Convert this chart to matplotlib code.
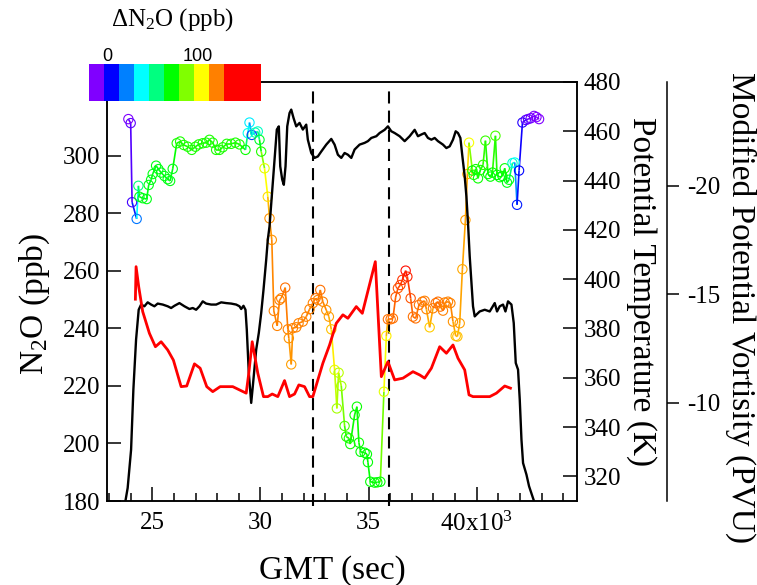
import matplotlib
matplotlib.use("Agg")
import matplotlib.pyplot as plt
import numpy as np
from matplotlib.collections import LineCollection
from matplotlib.colors import LinearSegmentedColormap, Normalize
from matplotlib.ticker import MultipleLocator, FixedLocator

plt.rcParams['font.family'] = 'Liberation Serif'
plt.rcParams['mathtext.fontset'] = 'custom'
plt.rcParams['mathtext.rm'] = 'Liberation Serif'
plt.rcParams['mathtext.it'] = 'Liberation Serif:italic'
plt.rcParams['mathtext.bf'] = 'Liberation Serif:bold'
plt.rcParams['axes.unicode_minus'] = False

# N2O samples (GMT sec, ppb) and delta N2O (ppb) used for the colour
n2o_time = [23889, 23995, 24060, 24273, 24352, 24398, 24551, 24736, 24829, 24940,
            25014, 25171, 25278, 25403, 25556, 25708, 25820, 25940, 26125, 26283,
            26449, 26634, 26820, 26991, 27144, 27329, 27486, 27639, 27792, 27949,
            28102, 28255, 28440, 28644, 28843, 29028, 29306, 29412, 29491, 29598,
            29755, 29875, 29954, 30033, 30186, 30338, 30417, 30523, 30616, 30773,
            30880, 30959, 31144, 31264, 31311, 31422, 31496, 31653, 31760, 31959,
            32116, 32269, 32422, 32547, 32653, 32765, 32885, 33042, 33163, 33274,
            33427, 33533, 33612, 33737, 33890, 33968, 34089, 34154, 34353, 34459,
            34552, 34630, 34816, 34922, 34968, 35079, 35279, 35404, 35543, 35709,
            35820, 35894, 36019, 36126, 36251, 36357, 36469, 36561, 36714, 36793,
            36945, 37052, 37177, 37330, 37487, 37594, 37673, 37825, 37978, 38103,
            38209, 38320, 38440, 38520, 38672, 38783, 38903, 39029, 39107, 39214,
            39339, 39478, 39570, 39645, 39802, 39862, 39955, 40061, 40172, 40293,
            40404, 40524, 40635, 40728, 40867, 40941, 41066, 41191, 41298, 41404,
            41497, 41654, 41761, 41867, 41960, 42117, 42270, 42376, 42501, 42654,
            42765, 42885]
n2o_ppb = [312.8, 311.4, 283.9, 278.1, 289.6, 285.8, 285.3, 285.0, 289.9, 291.7,
           293.7, 296.6, 295.4, 294.2, 293.0, 291.9, 291.3, 295.5, 304.4, 305.0,
           303.8, 303.2, 302.1, 303.2, 304.0, 304.4, 304.6, 305.6, 304.6, 302.1,
           302.1, 303.0, 304.2, 304.2, 304.6, 304.0, 302.1, 307.9, 311.6, 307.3,
           308.1, 308.5, 305.6, 301.5, 295.7, 285.8, 278.3, 270.8, 246.1, 240.9,
           249.9, 250.5, 254.2, 239.7, 236.6, 227.5, 240.1, 240.4, 241.8, 242.4,
           244.1, 246.7, 248.8, 250.5, 249.9, 253.4, 249.3, 246.4, 244.1, 239.7,
           225.6, 212.2, 224.6, 220.0, 206.1, 202.4, 201.8, 199.8, 209.9, 212.8,
           200.3, 197.1, 196.8, 196.3, 193.5, 186.7, 186.4, 186.5, 186.7, 218.0,
           237.4, 243.2, 243.2, 243.5, 250.9, 254.0, 255.1, 256.9, 260.1, 258.0,
           250.5, 244.1, 243.5, 248.2, 249.3, 249.6, 246.7, 240.4, 247.0, 248.8,
           249.3, 247.6, 246.2, 249.0, 249.3, 248.8, 242.4, 237.4, 237.2, 241.8,
           260.6, 277.7, 293.7, 304.6, 294.9, 293.4, 295.4, 292.2, 295.1, 296.9,
           305.3, 293.7, 292.8, 294.2, 307.0, 293.4, 292.6, 293.0, 295.7, 290.7,
           291.7, 297.5, 297.7, 283.0, 294.9, 311.6, 312.5, 312.8, 313.1, 313.9,
           313.5, 312.8]
dn2o = [-12, -8, -4, 20, 55, 68, 68, 68, 68, 68,
        68, 68, 68, 68, 68, 68, 68, 68, 74, 74,
        74, 74, 74, 74, 74, 74, 74, 74, 74, 74,
        74, 74, 74, 74, 74, 74, 72, 40, 35, 12,
        48, 45, 65, 75, 100, 108, 118, 118, 120, 120,
        120, 120, 122, 120, 118, 116, 120, 120, 120, 120,
        120, 120, 120, 122, 120, 122, 120, 118, 116, 112,
        100, 92, 95, 92, 80, 76, 74, 72, 72, 72,
        72, 70, 70, 70, 70, 70, 70, 70, 70, 100,
        106, 122, 122, 122, 125, 125, 128, 130, 135, 132,
        126, 122, 122, 122, 122, 120, 120, 110, 120, 122,
        122, 122, 120, 120, 120, 120, 118, 112, 112, 116,
        115, 116, 115, 103, 72, 74, 72, 72, 74, 76,
        78, 70, 70, 72, 80, 70, 70, 70, 72, 68,
        68, 45, 38, 8, 5, 0, -6, -8, -10, -14,
        -14, -14]

# potential temperature (K)
theta_time = [23750, 23856, 24014, 24120, 24245, 24366, 24477, 24630, 24782, 24940,
              25093, 25245, 25477, 25708, 25866, 26019, 26250, 26482, 26713, 26866,
              27023, 27176, 27329, 27486, 27718, 27949, 28181, 28412, 28644, 28875,
              29028, 29107, 29213, 29306, 29366, 29459, 29570, 29644, 29801, 29922,
              30033, 30139, 30264, 30338, 30417, 30649, 30755, 30848, 30913, 31005,
              31079, 31158, 31237, 31343, 31422, 31528, 31653, 31806, 31959, 32116,
              32190, 32348, 32501, 32653, 32811, 33042, 33274, 33427, 33579, 33737,
              33890, 34042, 34200, 34353, 34584, 34816, 34968, 35126, 35357, 35510,
              35742, 35894, 36052, 36205, 36436, 36668, 36899, 37131, 37284, 37441,
              37594, 37746, 37904, 38057, 38209, 38440, 38598, 38751, 38904, 39029,
              39135, 39246, 39339, 39446, 39524, 39598, 39677, 39756, 39830, 39909,
              39987, 40140, 40372, 40603, 40835, 40941, 41066, 41219, 41330, 41450,
              41608, 41714, 41807, 41913, 41992, 42071, 42145, 42302, 42422, 42580,
              42654]
theta_k = [309.9, 315.3, 330.8, 355.2, 375.5, 387.6, 389.7, 389.0, 390.6, 389.7,
           389.0, 390.1, 389.7, 389.0, 388.3, 389.2, 390.3, 389.0, 387.9, 388.3,
           387.6, 389.0, 391.0, 390.1, 389.7, 389.7, 390.6, 390.3, 390.1, 389.7,
           389.0, 387.9, 389.2, 387.6, 379.5, 362.0, 349.8, 356.5, 371.4, 378.2,
           386.3, 395.7, 407.9, 416.0, 421.4, 448.5, 460.7, 462.0, 445.8, 440.4,
           438.3, 445.8, 462.0, 467.4, 468.8, 465.4, 462.0, 463.4, 460.7, 462.7,
           456.6, 451.2, 449.2, 449.8, 451.8, 454.6, 456.9, 454.6, 450.5, 449.2,
           451.2, 450.5, 449.2, 452.6, 454.6, 455.3, 456.0, 457.3, 458.0, 459.3,
           460.6, 462.0, 460.0, 459.3, 458.0, 456.0, 458.0, 460.6, 458.0, 458.7,
           459.3, 457.3, 456.6, 457.3, 456.0, 454.6, 453.2, 453.9, 456.6, 460.0,
           459.3, 457.3, 449.8, 441.7, 433.6, 422.8, 409.3, 398.5, 389.0, 384.9,
           385.6, 386.9, 387.6, 386.9, 390.3, 386.9, 389.0, 389.7, 386.9, 391.0,
           389.7, 382.2, 366.0, 363.3, 351.1, 334.9, 325.4, 320.7, 316.0, 311.9,
           309.9]

# modified potential vorticity (PVU)
pv_time = [24213, 24245, 24366, 24551, 24861, 25139, 25403, 25708, 25972, 26329,
           26588, 26945, 27209, 27514, 27792, 28134, 28718, 29028, 29338, 29459,
           29616, 29875, 30139, 30338, 30542, 30801, 31112, 31343, 31575, 31774,
           32038, 32269, 32422, 32653, 32885, 33195, 33505, 33811, 34042, 34431,
           34709, 35311, 35589, 35894, 36205, 36589, 37052, 37362, 37594, 37904,
           38288, 38598, 38904, 39135, 39446, 39645, 39830, 40603, 40913, 41297,
           41561]
pv_val = [-14.78, -16.28, -15.36, -14.21, -13.21, -12.59, -12.82, -12.44, -11.97, -10.75,
          -10.78, -11.80, -11.60, -10.75, -10.52, -10.75, -10.75, -10.60, -10.45, -11.37,
          -12.82, -11.37, -10.29, -10.29, -10.41, -10.29, -11.03, -10.29, -10.41, -10.83,
          -10.75, -10.29, -10.29, -11.06, -11.83, -12.67, -13.67, -14.06, -13.90, -14.44,
          -14.13, -16.51, -11.21, -11.90, -11.06, -11.14, -11.44, -11.29, -11.14, -11.60,
          -12.59, -12.29, -12.67, -12.06, -11.52, -10.37, -10.29, -10.29, -10.45, -10.78,
          -10.68]

dash_times = [32420, 35940]

# colour scale for delta N2O
cbar_colors = ['#8000ff', '#0000ff', '#0080ff', '#00ffff', '#00ff80',
               '#00ff00', '#80ff00', '#ffff00', '#ff8000', '#ff0000']
cbar_bounds = [-20.7, -4.1, 12.5, 29.1, 45.7, 62.3, 78.9, 95.5, 112.1, 128.7, 169.4]

x_major = [25000, 30000, 35000, 40000]
x_major_labels = ['25', '30', '35', '40x10$^3$']

W, H = 757, 585
fig = plt.figure(figsize=(W / 100, H / 100), dpi=100)
ax = fig.add_axes([107 / W, 1 - 501 / H, 470 / W, 419 / H])

# continuous colormap through the bin centres
centres = [(cbar_bounds[i] + cbar_bounds[i + 1]) / 2 for i in range(9)] + [cbar_bounds[9] + 8]
vmin, vmax = cbar_bounds[0], cbar_bounds[-1]
nodes = [(0.0, cbar_colors[0])]
for c, col in zip(centres, cbar_colors):
    nodes.append(((c - vmin) / (vmax - vmin), col))
nodes.append((1.0, cbar_colors[-1]))
cmap = LinearSegmentedColormap.from_list('dn2o', nodes)
norm = Normalize(vmin, vmax)

t = np.array(n2o_time)
y = np.array(n2o_ppb)
d = np.array(dn2o, dtype=float)
segs = [[(t[i], y[i]), (t[i + 1], y[i + 1])] for i in range(len(t) - 1)]
seg_cols = cmap(norm((d[:-1] + d[1:]) / 2))
ax.add_collection(LineCollection(segs, colors=seg_cols, linewidths=1.2, zorder=2))
ax.scatter(t, y, s=45, facecolors='none', edgecolors=cmap(norm(d)), linewidths=0.8, zorder=3)

for dt in dash_times:
    ax.axvline(dt, ymin=-0.012, ymax=0.99, color='k', lw=1.5, ls=(0, (5.8, 3.4)),
               clip_on=False, zorder=1)

ax.set_xlim(22900, 44640)
ax.set_ylim(180, 325.7)
ax.xaxis.set_major_locator(FixedLocator(x_major))
ax.set_xticklabels(x_major_labels)
ax.xaxis.set_minor_locator(MultipleLocator(1000))
ax.set_yticks(range(180, 301, 20))
ax.tick_params(axis='both', which='major', direction='in', length=10, width=1.1,
               labelsize=18, right=False, top=False)
ax.tick_params(axis='x', which='minor', direction='in', length=6, width=1.1, top=False)
ax.tick_params(axis='x', pad=8)
ax.tick_params(axis='y', pad=5)
for s in ax.spines.values():
    s.set_linewidth(1.1)
ax.set_xlabel('GMT (sec)', fontsize=24)
ax.xaxis.set_label_coords(0.479, -0.165)
ax.xaxis.label.set_va('center')
ax.set_ylabel('N$_2$O (ppb)', fontsize=24)
ax.yaxis.set_label_coords(-0.153, 0.47)
ax.yaxis.label.set_va('center')

# potential temperature axis
ax2 = ax.twinx()
ax2.plot(theta_time, theta_k, color='k', lw=1.7)
ax2.set_ylim(310, 480)
ax2.set_yticks(range(320, 481, 20))
ax2.tick_params(axis='y', direction='in', length=10, width=1.1, labelsize=18, pad=5)
for s in ax2.spines.values():
    s.set_linewidth(1.1)
ax2.set_ylabel('Potential Temperature (K)', fontsize=24, rotation=270)
ax2.yaxis.set_label_coords(1.138, 0.5)
ax2.yaxis.label.set_va('center')

# potential vorticity axis
ax3 = ax.twinx()
ax3.plot(pv_time, pv_val, color='#ff0000', lw=2)
ax3.set_ylim(-5.48, -24.79)
ax3.set_yticks([-20, -15, -10])
ax3.spines['right'].set_position(('axes', (667 - 107) / 470))
for k in ['left', 'top', 'bottom']:
    ax3.spines[k].set_visible(False)
ax3.spines['right'].set_linewidth(1.1)
ax3.tick_params(axis='y', direction='out', length=8.5, width=1.1, labelsize=18, pad=6)
ax3.set_ylabel('Modified Potential Vortisity (PVU)', fontsize=24, rotation=270)
ax3.yaxis.set_label_coords(1.348, 0.4625)
ax3.yaxis.label.set_va('center')

# colour bar
cax = fig.add_axes([89 / W, 1 - 101 / H, 172 / W, 37 / H])
cax.pcolormesh(cbar_bounds, [0, 1], [list(range(10))],
               cmap=matplotlib.colors.ListedColormap(cbar_colors), vmin=-0.5, vmax=9.5)
cax.set_xlim(vmin, vmax)
cax.set_ylim(0, 1)
cax.set_yticks([])
cax.xaxis.tick_top()
cax.set_xticks([0, 100])
cax.set_xticklabels(['0', '100'], family='Liberation Sans', fontsize=13)
cax.tick_params(axis='x', length=0, pad=-1)
for s in cax.spines.values():
    s.set_visible(False)
cax.text(0.483, 2.2, '\u0394N$_2$O (ppb)', transform=cax.transAxes, ha='center',
         va='center', fontsize=18)

fig.savefig('out.png', dpi=100)
